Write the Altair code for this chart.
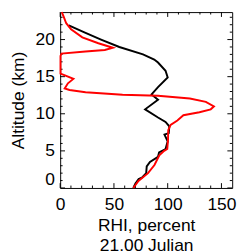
import altair as alt
import pandas as pd

# Black profile (altitude km, RHI percent)
alt_black = [0.0, 0.6, 1.2, 1.4, 2.0, 2.9, 3.5, 4.2, 4.8, 5.25, 6.3, 7.2, 7.4, 8.3,
             8.9, 9.5, 10.6, 11.9, 12.6, 13.6, 14.9, 15.8, 16.9, 17.3, 18.0, 19.0,
             20.0, 21.0, 21.9]
rhi_black = [68, 70, 73, 76, 80, 80.5, 83.5, 91, 92, 98, 100, 97, 101, 101.5,
             98, 91, 79, 91, 85, 91, 100, 98, 91, 87.5, 77, 55,
             38, 22, 8]

# Red profile
alt_red = [0.0, 0.95, 2.0, 3.1, 4.4, 5.0, 5.25, 6.5, 7.8, 8.5, 9.1, 9.8, 10.2, 10.6,
           11.0, 11.6, 12.05, 12.44, 12.57, 12.9, 13.2, 13.4, 14.1, 14.7, 15.1, 15.4,
           16.9, 17.8, 18.1, 18.4, 18.6, 18.9, 19.5, 20.3, 21.4, 22.2, 23.0, 23.7]
rhi_red = [68, 72.8, 81.7, 87.7, 92.2, 96.7, 99.6, 100.3, 100.5, 102.7, 109, 114.6, 129.5, 140,
           143, 135.5, 120.6, 91, 58, 23.6, 8.7, 4.2, 7.2, 12.3, 5.6, 0.3,
           0.3, 0.3, 1.2, 23.5, 41.5, 49, 35.5, 20.6, 10.1, 5.6, 3.5, 1.5]

x_major = [0, 50, 100, 150]
x_minor = [10, 20, 30, 40, 60, 70, 80, 90, 110, 120, 130, 140]
y_major = [0, 5, 10, 15, 20]
y_minor = [1, 2, 3, 4, 6, 7, 8, 9, 11, 12, 13, 14, 16, 17, 18, 19, 21, 22, 23]

x_title = ["RHI, percent", "21.00 Julian"]
y_title = "Altitude (km)"

W, H = 178, 182
FONT = "Liberation Sans"

df = pd.concat([
    pd.DataFrame({"series": "black", "alt": alt_black, "rhi": rhi_black,
                  "idx": range(len(alt_black))}),
    pd.DataFrame({"series": "red", "alt": alt_red, "rhi": rhi_red,
                  "idx": range(len(alt_red))}),
])

xs = alt.Scale(domain=[0, 160], nice=False, zero=False)
ys = alt.Scale(domain=[0, 23.7], nice=False, zero=False)

xaxis = alt.Axis(values=x_major, ticks=False, tickSize=0, domain=False, grid=False,
                 labelPadding=8, labelFlush=False, titlePadding=4,
                 titleLineHeight=21)
yaxis = alt.Axis(values=y_major, ticks=False, tickSize=0, domain=False, grid=False,
                 labelPadding=6, labelFlush=True, titlePadding=8)


def X(field):
    return alt.X(field, type="quantitative", scale=xs, axis=xaxis, title=x_title)


def Y(field):
    return alt.Y(field, type="quantitative", scale=ys, axis=yaxis, title=y_title)


lines = alt.Chart(df).mark_line(strokeWidth=2).encode(
    x=X("rhi"),
    y=Y("alt"),
    color=alt.Color("series:N", scale=alt.Scale(domain=["black", "red"],
                                                range=["#000000", "#ff0000"]),
                    legend=None),
    order=alt.Order("idx:Q"),
)


def tick_layers(vals, L):
    d = pd.DataFrame({"v": vals})
    base = alt.Chart(d).mark_rule(color="black", strokeWidth=1)
    return [
        base.encode(y=Y("v"), x=alt.value(0), x2=alt.value(L)),
        base.encode(y=Y("v"), x=alt.value(W), x2=alt.value(W - L)),
    ]


def xtick_layers(vals, L):
    d = pd.DataFrame({"v": vals})
    base = alt.Chart(d).mark_rule(color="black", strokeWidth=1)
    return [
        base.encode(x=X("v"), y=alt.value(H), y2=alt.value(H - L)),
        base.encode(x=X("v"), y=alt.value(0), y2=alt.value(L)),
    ]


layers = (tick_layers(y_major, 5) + tick_layers(y_minor, 2.5)
          + xtick_layers(x_major, 5) + xtick_layers(x_minor, 2.5) + [lines])

chart = alt.layer(*layers).properties(
    width=W, height=H,
    padding={"left": 54, "top": 0, "right": 6, "bottom": 62},
    autosize="none",
).configure_view(
    stroke="black", strokeWidth=1
).configure_axis(
    labelFont=FONT, labelFontSize=18, labelColor="black",
    titleFont=FONT, titleFontSize=18, titleColor="black", titleFontWeight="normal",
)

chart.save("out.html", embed_options={"renderer": "svg", "actions": False})
